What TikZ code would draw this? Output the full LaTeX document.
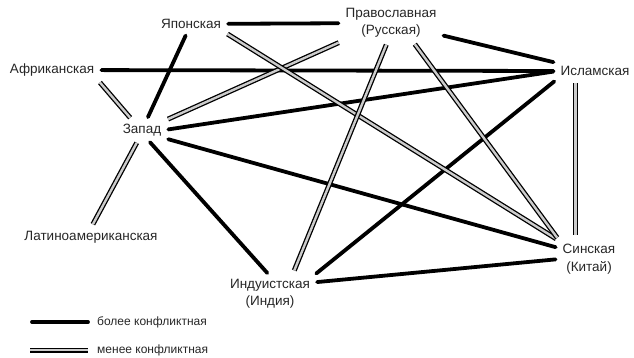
\documentclass[tikz,border=0pt]{standalone}
\usepackage{fontspec}
\setmainfont{Liberation Sans}
\usetikzlibrary{positioning,calc}

\begin{document}
\begin{tikzpicture}[x=1pt, y=-1pt,
    lbl/.style={inner sep=3pt, align=center, text=black!85, font=\fontsize{13.5}{17.5}\selectfont},
    legtxt/.style={inner sep=1pt, anchor=west, text=black!85, font=\fontsize{12}{14}\selectfont},
    more/.style={line width=3.8pt, line cap=round, shorten <=4pt, shorten >=4pt},
    less/.style={line width=1.3pt, double=black!20, double distance=2.4pt, shorten <=4pt, shorten >=4pt}]
    \useasboundingbox (0,0) rectangle (634,358);

    % Civilizations
    \node[lbl] (jap) at (191,24) {Японская};
    \node[lbl] (ort) at (391,23) {Православная\\(Русская)};
    \node[lbl] (afr) at (52,70) {Африканская};
    \node[lbl] (isl) at (595,71) {Исламская};
    \node[lbl] (zap) at (142,130) {Запад};
    \node[lbl] (lat) at (91,237) {Латиноамериканская};
    \node[lbl] (ind) at (270,294) {Индуистская\\(Индия)};
    \node[lbl] (sin) at (589,259) {Синская\\(Китай)};

    % More conflictual
    \draw[more] (jap) -- (ort);
    \draw[more] (ort) -- (isl.north west);
    \draw[more] (afr) -- (isl.west);
    \draw[more] (jap) -- (zap);
    \draw[more] (zap.east) -- (isl.west);
    \draw[more] (zap.-20) -- (sin.160);
    \draw[more] (zap.-60) -- (ind.north);
    \draw[more] (isl.south west) -- (ind.north east);
    \draw[more] (ind.15) -- (sin.west);

    % Less conflictual
    \draw[less] (afr.south east) -- (zap.135);
    \draw[less] (zap.north east) -- (ort.south west);
    \draw[less] (zap.-110) -- (lat.north);
    \draw[less] (jap.south east) -- (sin.north west);
    \draw[less] (ort.-40) -- (sin.north west);
    \draw[less, shorten >=6pt] (ort.-100) -- ([xshift=22pt]ind.north);
    \draw[less, shorten >=6pt] ($(isl.south west)+(18,0)$) -- ($(isl.south west |- sin.north)+(18,0)$);

    % Legend
    \node[legtxt] (mtxt) at (96,322) {более конфликтная};
    \node[legtxt] (ltxt) at (96,350) {менее конфликтная};
    \coordinate (mbeg) at (28,322);
    \coordinate (lbeg) at (26,350);
    \draw[more] (mbeg) -- ([xshift=-4pt]mtxt.west);
    \draw[less] (lbeg) -- ([xshift=-4pt]ltxt.west);
\end{tikzpicture}
\end{document}
